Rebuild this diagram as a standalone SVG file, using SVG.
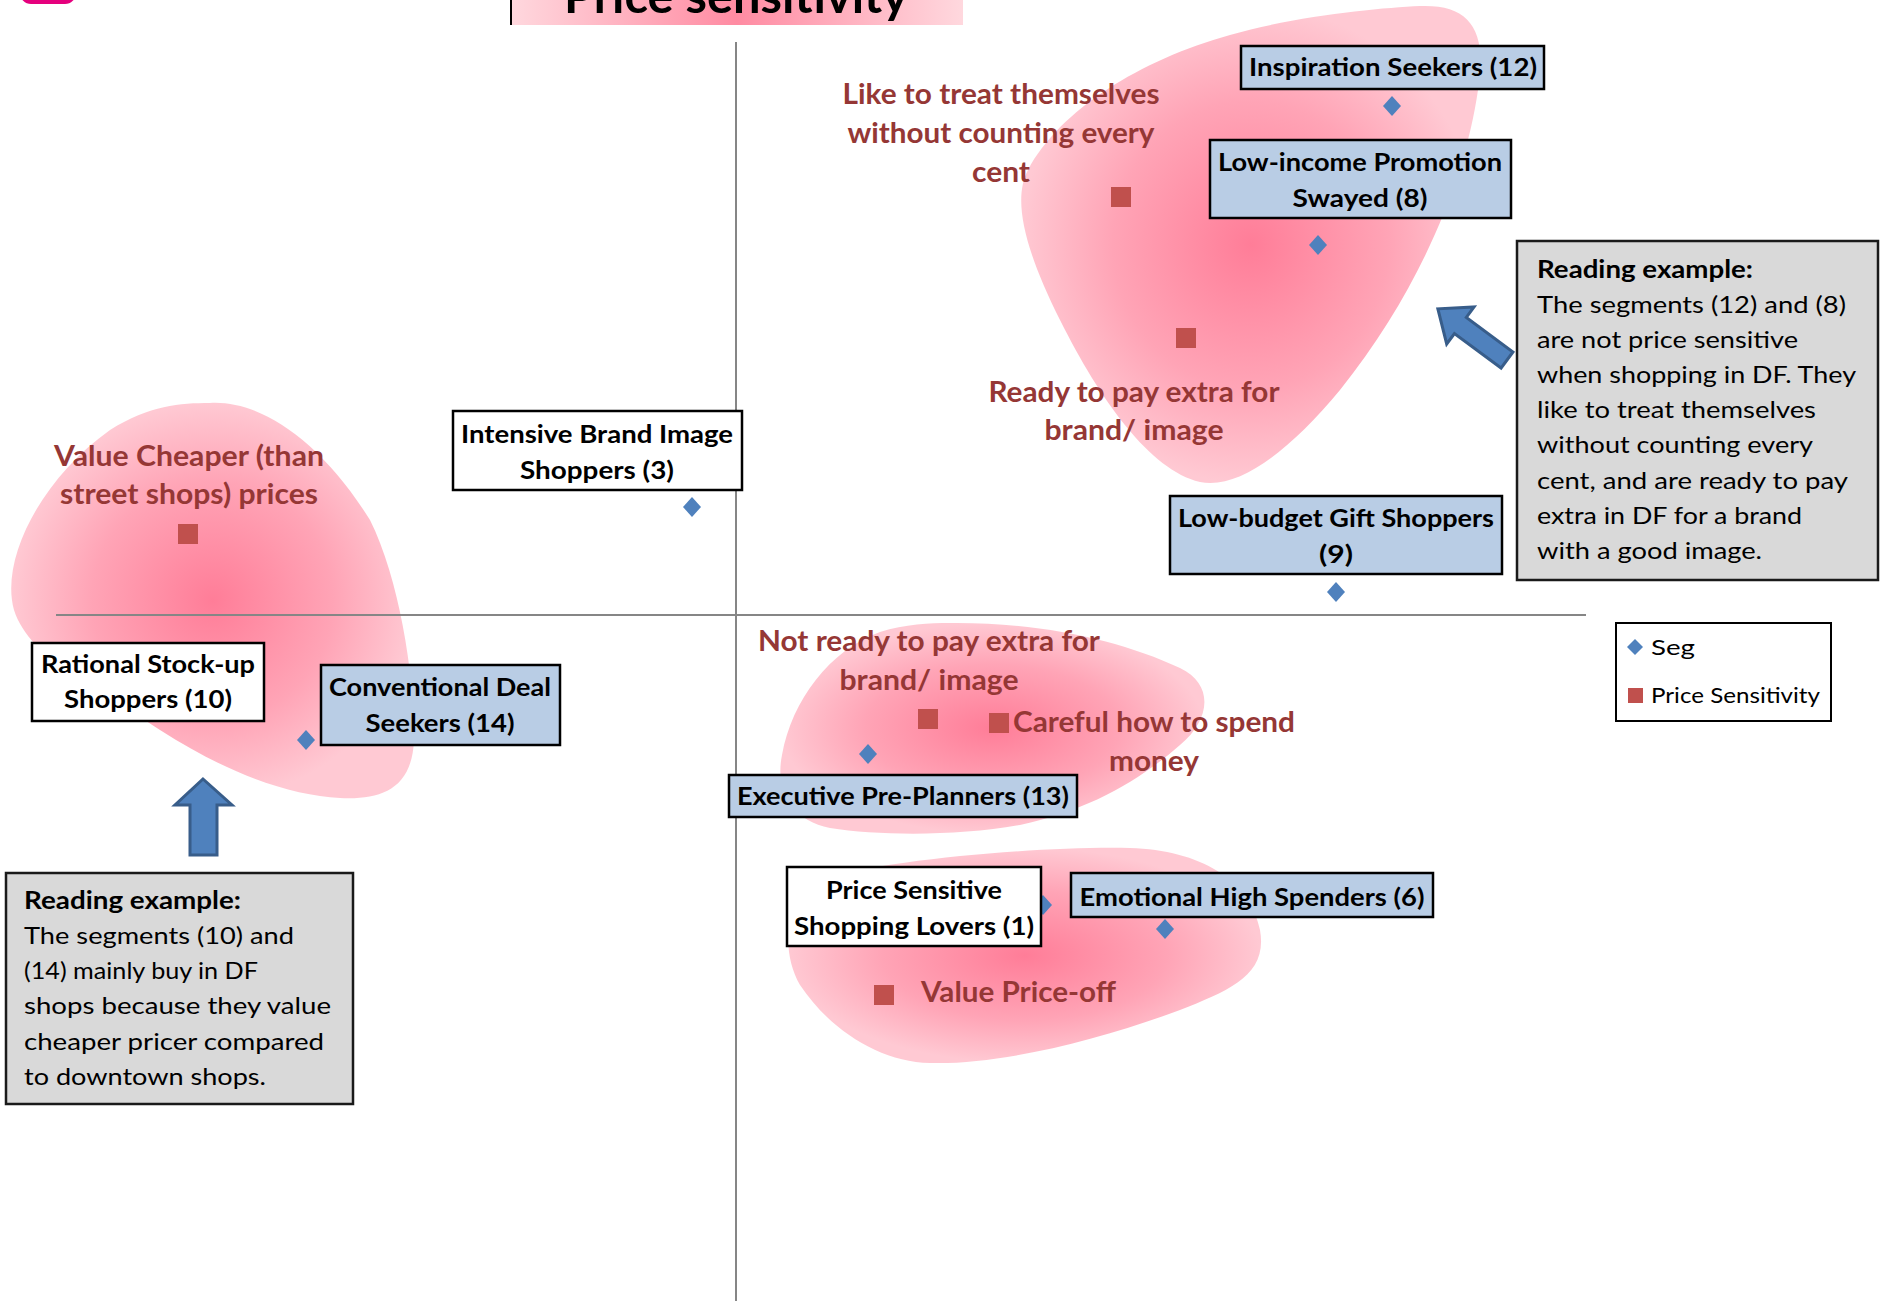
<svg xmlns="http://www.w3.org/2000/svg" width="1880" height="1301" viewBox="0 0 1880 1301">
<style>
.lbl{font-family:Lato,"Open Sans","Liberation Sans",sans-serif;font-weight:bold;font-size:25px;fill:#000;text-anchor:middle}
.red{font-family:Lato,"Open Sans","Liberation Sans",sans-serif;font-weight:bold;font-size:28px;fill:#953735;text-anchor:middle}
.rd{font-family:Lato,"Open Sans","Liberation Sans",sans-serif;font-size:24px;fill:#000}
.rdb{font-family:Lato,"Open Sans","Liberation Sans",sans-serif;font-size:24px;font-weight:bold;fill:#000}
.leg{font-family:Lato,"Open Sans","Liberation Sans",sans-serif;font-size:22px;fill:#000}
.blue{fill:#b9cde5;stroke:#000;stroke-width:2.5}
.white{fill:#fff;stroke:#000;stroke-width:2.5}
.gray{fill:#d9d9d9;stroke:#1a1a1a;stroke-width:2.5}
.axis{stroke:#868686;stroke-width:2;fill:none}
.arrow{fill:#4f81bd;stroke:#385d8a;stroke-width:3;stroke-linejoin:miter}
</style>
<defs>
<radialGradient id="blobg" cx="0.5" cy="0.5" r="0.5">
<stop offset="0" stop-color="#ff7d98"/>
<stop offset="0.6" stop-color="#ffa4b6"/>
<stop offset="1" stop-color="#ffc9d3"/>
</radialGradient>
<linearGradient id="titleg" x1="0" y1="0" x2="1" y2="0">
<stop offset="0" stop-color="#ffd8de"/>
<stop offset="0.5" stop-color="#ff8ba2"/>
<stop offset="1" stop-color="#ffd8de"/>
</linearGradient>
<path id="dia" d="M0,-10 L9,0 L0,10 L-9,0 Z" fill="#4f81bd"/>
<rect id="sq" x="-10" y="-10" width="20" height="20" fill="#c0504d"/>
</defs>
<rect width="1880" height="1301" fill="#fff"/>

<!-- top-left logo fragment -->
<rect x="20" y="-20" width="56" height="24" rx="11" fill="#e5007d"/>

<!-- title -->
<g id="title">
<rect x="511" y="-10" width="452" height="35" fill="url(#titleg)"/>
<line x1="511" y1="0" x2="511" y2="25" stroke="#000" stroke-width="2"/>
<text x="736" y="13" font-family="Lato,'Open Sans','Liberation Sans',sans-serif" font-weight="bold" font-size="48" text-anchor="middle" textLength="344" lengthAdjust="spacingAndGlyphs">Price sensitivity</text>
</g>

<!-- blobs -->
<g id="blobs">
<path d="M1420,6 C1470,4 1488,30 1478,90 C1465,180 1420,290 1340,390 C1290,450 1240,490 1200,482 C1150,470 1100,400 1060,320 C1025,250 1012,200 1028,170 C1060,110 1140,60 1230,35 C1300,15 1380,8 1420,6 Z" fill="url(#blobg)"/>
<path d="M210,403 C260,400 320,440 370,520 C400,580 415,680 414,740 C412,790 380,800 340,798 C290,795 230,775 160,730 C100,690 30,660 14,610 C0,560 40,480 110,430 C150,405 180,403 210,403 Z" fill="url(#blobg)"/>
<path d="M950,623 C1040,622 1120,640 1180,668 C1215,685 1210,720 1180,745 C1140,780 1090,810 1020,825 C960,836 880,836 830,828 C790,820 775,790 782,755 C792,700 830,650 880,632 C905,624 930,623 950,623 Z" fill="url(#blobg)"/>
<path d="M1130,848 C1200,850 1250,880 1260,930 C1268,975 1230,990 1180,1010 C1100,1040 1000,1065 930,1063 C880,1062 830,1030 800,985 C780,950 785,900 820,880 C880,860 1040,846 1130,848 Z" fill="url(#blobg)"/>
</g>

<!-- axes -->
<g id="axes">
<line class="axis" x1="736" y1="42" x2="736" y2="1301"/>
<line class="axis" x1="56" y1="615" x2="1586" y2="615"/>
</g>

<!-- price sensitivity points and labels -->
<g id="ps-treat">
<use href="#sq" x="1121" y="197"/>
<text class="red" x="1001" y="104" textLength="317" lengthAdjust="spacingAndGlyphs">Like to treat themselves</text>
<text class="red" x="1001" y="143" textLength="307" lengthAdjust="spacingAndGlyphs">without counting every</text>
<text class="red" x="1001" y="182" textLength="58" lengthAdjust="spacingAndGlyphs">cent</text>
</g>
<g id="ps-ready">
<use href="#sq" x="1186" y="338"/>
<text class="red" x="1134" y="402" textLength="291" lengthAdjust="spacingAndGlyphs">Ready to pay extra for</text>
<text class="red" x="1134" y="440" textLength="179" lengthAdjust="spacingAndGlyphs">brand/ image</text>
</g>
<g id="ps-cheaper">
<use href="#sq" x="188" y="534"/>
<text class="red" x="189" y="466" textLength="270" lengthAdjust="spacingAndGlyphs">Value Cheaper (than</text>
<text class="red" x="189" y="504" textLength="258" lengthAdjust="spacingAndGlyphs">street shops) prices</text>
</g>
<g id="ps-notready">
<use href="#sq" x="928" y="719"/>
<text class="red" x="929" y="651" textLength="342" lengthAdjust="spacingAndGlyphs">Not ready to pay extra for</text>
<text class="red" x="929" y="690" textLength="179" lengthAdjust="spacingAndGlyphs">brand/ image</text>
</g>
<g id="ps-careful">
<use href="#sq" x="999" y="723"/>
<text class="red" x="1013" y="732" style="text-anchor:start" textLength="282" lengthAdjust="spacingAndGlyphs">Careful how to spend</text>
<text class="red" x="1154" y="771" textLength="90" lengthAdjust="spacingAndGlyphs">money</text>
</g>
<g id="ps-priceoff">
<use href="#sq" x="884" y="995"/>
<text class="red" x="921" y="1002" style="text-anchor:start" textLength="195" lengthAdjust="spacingAndGlyphs">Value Price-off</text>
</g>

<!-- segment markers -->
<g id="seg-markers">
<use href="#dia" x="1392" y="106"/>
<use href="#dia" x="1318" y="245"/>
<use href="#dia" x="1336" y="592"/>
<use href="#dia" x="692" y="507"/>
<use href="#dia" x="306" y="740"/>
<use href="#dia" x="868" y="754"/>
<use href="#dia" x="1043" y="905"/>
<use href="#dia" x="1165" y="929"/>
</g>

<!-- segment nodes -->
<g id="seg12">
<rect class="blue" x="1241" y="46" width="303" height="43"/>
<text class="lbl" x="1393" y="76" textLength="288" lengthAdjust="spacingAndGlyphs">Inspiration Seekers (12)</text>
</g>
<g id="seg8">
<rect class="blue" x="1210" y="140" width="301" height="78"/>
<text class="lbl" x="1360" y="171" textLength="284" lengthAdjust="spacingAndGlyphs">Low-income Promotion</text>
<text class="lbl" x="1360" y="207" textLength="135" lengthAdjust="spacingAndGlyphs">Swayed (8)</text>
</g>
<g id="seg9">
<rect class="blue" x="1170" y="496" width="332" height="78"/>
<text class="lbl" x="1336" y="527" textLength="316" lengthAdjust="spacingAndGlyphs">Low-budget Gift Shoppers</text>
<text class="lbl" x="1336" y="563" textLength="34" lengthAdjust="spacingAndGlyphs">(9)</text>
</g>
<g id="seg3">
<rect class="white" x="453" y="411" width="289" height="79"/>
<text class="lbl" x="597" y="443" textLength="272" lengthAdjust="spacingAndGlyphs">Intensive Brand Image</text>
<text class="lbl" x="597" y="479" textLength="154" lengthAdjust="spacingAndGlyphs">Shoppers (3)</text>
</g>
<g id="seg10">
<rect class="white" x="32" y="643" width="232" height="78"/>
<text class="lbl" x="148" y="673" textLength="214" lengthAdjust="spacingAndGlyphs">Rational Stock-up</text>
<text class="lbl" x="148" y="708" textLength="168" lengthAdjust="spacingAndGlyphs">Shoppers (10)</text>
</g>
<g id="seg14">
<rect class="blue" x="321" y="665" width="239" height="80"/>
<text class="lbl" x="440" y="696" textLength="222" lengthAdjust="spacingAndGlyphs">Conventional Deal</text>
<text class="lbl" x="440" y="732" textLength="149" lengthAdjust="spacingAndGlyphs">Seekers (14)</text>
</g>
<g id="seg13">
<rect class="blue" x="729" y="775" width="348" height="42"/>
<text class="lbl" x="903" y="805" textLength="332" lengthAdjust="spacingAndGlyphs">Executive Pre-Planners (13)</text>
</g>
<g id="seg1">
<rect class="white" x="787" y="867" width="254" height="79"/>
<text class="lbl" x="914" y="899" textLength="176" lengthAdjust="spacingAndGlyphs">Price Sensitive</text>
<text class="lbl" x="914" y="935" textLength="240" lengthAdjust="spacingAndGlyphs">Shopping Lovers (1)</text>
</g>
<g id="seg6">
<rect class="blue" x="1071" y="873" width="362" height="44"/>
<text class="lbl" x="1252" y="906" textLength="345" lengthAdjust="spacingAndGlyphs">Emotional High Spenders (6)</text>
</g>

<!-- reading examples -->
<g id="reading-right">
<rect class="gray" x="1517" y="241" width="361" height="339"/>
<text class="rdb" x="1537" y="278" textLength="216" lengthAdjust="spacingAndGlyphs">Reading example:</text>
<text class="rd" x="1537" y="313" textLength="309" lengthAdjust="spacingAndGlyphs">The segments (12) and (8)</text>
<text class="rd" x="1537" y="348" textLength="261" lengthAdjust="spacingAndGlyphs">are not price sensitive</text>
<text class="rd" x="1537" y="383" textLength="319" lengthAdjust="spacingAndGlyphs">when shopping in DF. They</text>
<text class="rd" x="1537" y="418" textLength="279" lengthAdjust="spacingAndGlyphs">like to treat themselves</text>
<text class="rd" x="1537" y="453" textLength="276" lengthAdjust="spacingAndGlyphs">without counting every</text>
<text class="rd" x="1537" y="489" textLength="311" lengthAdjust="spacingAndGlyphs">cent, and are ready to pay</text>
<text class="rd" x="1537" y="524" textLength="265" lengthAdjust="spacingAndGlyphs">extra in DF for a brand</text>
<text class="rd" x="1537" y="559" textLength="225" lengthAdjust="spacingAndGlyphs">with a good image.</text>
</g>
<g id="reading-left">
<rect class="gray" x="6" y="873" width="347" height="231"/>
<text class="rdb" x="24" y="909" textLength="217" lengthAdjust="spacingAndGlyphs">Reading example:</text>
<text class="rd" x="24" y="944" textLength="270" lengthAdjust="spacingAndGlyphs">The segments (10) and</text>
<text class="rd" x="24" y="979" textLength="234" lengthAdjust="spacingAndGlyphs">(14) mainly buy in DF</text>
<text class="rd" x="24" y="1014" textLength="307" lengthAdjust="spacingAndGlyphs">shops because they value</text>
<text class="rd" x="24" y="1050" textLength="300" lengthAdjust="spacingAndGlyphs">cheaper pricer compared</text>
<text class="rd" x="24" y="1085" textLength="242" lengthAdjust="spacingAndGlyphs">to downtown shops.</text>
</g>

<!-- legend -->
<g id="legend">
<rect x="1616" y="623" width="215" height="98" fill="#fff" stroke="#000" stroke-width="2"/>
<path d="M1635,639 L1643,647 L1635,655 L1627,647 Z" fill="#4f81bd"/>
<text class="leg" x="1651" y="655" textLength="44" lengthAdjust="spacingAndGlyphs">Seg</text>
<rect x="1628" y="688" width="15" height="15" fill="#c0504d"/>
<text class="leg" x="1651" y="703" textLength="169" lengthAdjust="spacingAndGlyphs">Price Sensitivity</text>
</g>

<!-- connectors (block arrows) -->
<g id="connectors">
<path class="arrow" d="M203,779 L232,805 L217,805 L217,855 L190,855 L190,805 L175,805 Z"/>
<path class="arrow" transform="translate(1507,360) rotate(216.5)" d="M0,-10 L58,-10 L58,-23 L86,0 L58,23 L58,10 L0,10 Z"/>
</g>
</svg>
